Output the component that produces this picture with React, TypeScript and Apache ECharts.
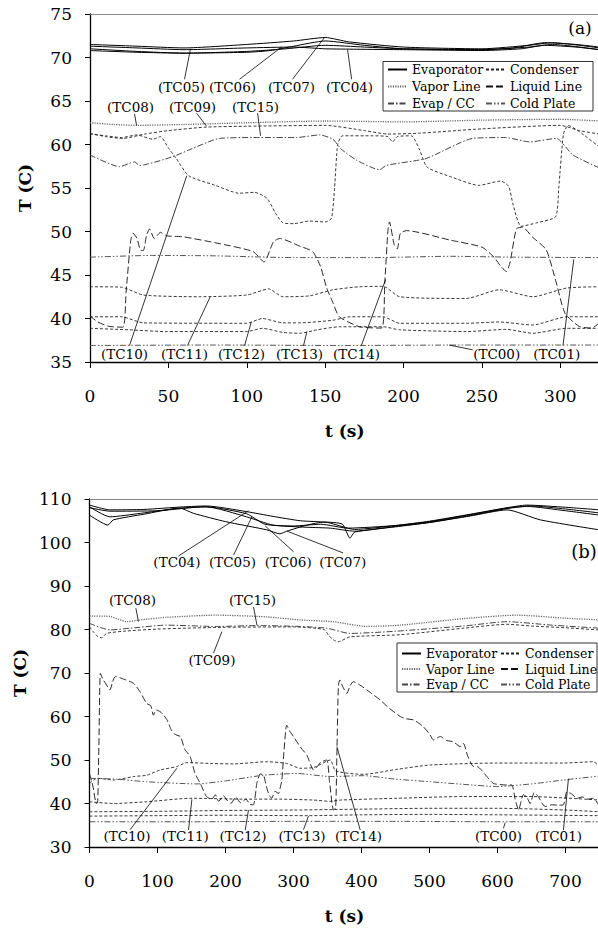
import React, { useEffect, useRef } from "react";
import * as echarts from "echarts";

const FONT = "DejaVu Serif";

// ---------- axes ----------
const A_X = { min: 0, max: 325, interval: 50 };
const A_Y = { min: 35, max: 75, interval: 5 };
const B_X = { min: 0, max: 750, interval: 100 };
const B_Y = { min: 30, max: 110, interval: 10 };

const LEGEND_COL1 = ["Evaporator", "Vapor Line", "Evap / CC"];
const LEGEND_COL2 = ["Condenser", "Liquid Line", "Cold Plate"];

// ---------- panel (a) data: [t (s), T (C)] ----------
const a_TC04 = [[0,71.3],[30,71.1],[60,70.9],[100,71.1],[130,71.2],[150,71.0],[170,70.95],[200,70.9],[250,70.8],[275,71.0],[290,71.4],[310,71.2],[325,70.9]];
const a_TC05 = [[0,70.8],[30,70.6],[60,70.5],[100,70.7],[125,71.0],[150,71.4],[175,71.2],[200,71.0],[250,70.9],[270,71.1],[290,71.7],[310,71.5],[325,71.2]];
const a_TC06 = [[0,71.0],[30,70.7],[60,70.5],[100,70.6],[115,70.8],[130,71.3],[150,71.9],[175,71.4],[200,71.0],[250,70.9],[280,71.2],[295,71.5],[325,70.9]];
const a_TC07 = [[0,71.5],[30,71.3],[60,71.1],[100,71.5],[130,71.9],[150,72.3],[165,71.8],[200,71.2],[250,71.0],[280,71.4],[295,71.7],[325,71.1]];
const a_TC08 = [[0,62.5],[15,62.3],[30,62.2],[60,62.3],[100,62.5],[150,62.7],[200,62.6],[250,62.8],[300,62.9],[325,62.7]];
const a_TC09 = [[0,61.3],[10,60.9],[21,60.7],[35,61.2],[50,61.6],[74,62.0],[100,62.1],[150,62.2],[175,61.6],[190,61.2],[210,61.3],[250,61.8],[300,62.2],[312,61.6],[325,61.2]];
const a_TC10 = [[0,61.2],[10,61.0],[20,60.8],[30,61.1],[40,60.6],[45,60.9],[50,59.6],[55,58.4],[63,56.4],[80,55.3],[95,54.4],[105,54.5],[113,53.8],[118,52.2],[123,51.0],[130,50.9],[140,51.2],[150,51.1],[154,51.5],[156,55],[158,60],[161,61.0],[180,61.0],[190,60.9],[193,60.3],[196,60.9],[205,61.0],[210,59.5],[215,57.4],[230,56.3],[248,55.3],[262,55.8],[267,55.2],[270,53.0],[275,50.6],[285,51.0],[297,51.7],[299,55],[302,61.2],[305,62.2],[312,61.5],[325,59.7]];
const a_TC11 = [[0,43.65],[20,43.6],[34,42.7],[70,42.5],[100,42.7],[114,43.4],[123,42.5],[140,42.6],[155,43.3],[172,43.65],[187,43.7],[197.5,42.5],[240,42.3],[261,43.3],[282.5,42.5],[304,43.5],[325,43.65]];
const a_TC12 = [[0,40.2],[20,40.2],[34,39.5],[100,39.45],[110,40.0],[123,39.5],[134,39.5],[155,39.8],[166,40.2],[187,40.2],[197.5,39.45],[240,39.45],[261,39.6],[282.5,39.25],[304,40.2],[325,40.2]];
const a_TC13 = [[0,38.87],[25,38.7],[48,38.5],[100,38.5],[110,38.87],[123,38.4],[134,38.3],[145,38.7],[159,39.05],[187,39.05],[197.5,38.7],[240,38.5],[265.6,38.75],[282.5,38.3],[304,38.87],[325,38.87]];
const a_TC14 = [[0,40.3],[5,39.6],[12,39.1],[21,39.0],[23,43],[26,49],[27.5,49.8],[30,49.2],[32,47.9],[34,47.8],[36,49.5],[38,50.3],[41,49.2],[45,49.9],[49,49.5],[59,49.4],[80,48.7],[104,47.7],[111,46.5],[117,48.8],[121,49.2],[134,48.3],[142,47.7],[147,46.0],[151,43.5],[155,41.8],[159,40.2],[172,39.05],[186,38.9],[188,44],[190,50],[191,51.1],[194,48.5],[196,48.0],[198,49.8],[202,50.1],[230,49.0],[250,48.2],[258,47.0],[262,46.0],[265.6,45.4],[268,46.5],[272,50.3],[276,50.5],[282,49.4],[291,47.9],[297,44.4],[303,40.6],[312,39.1],[320,38.9],[325,39.5]];
const a_TC15 = [[0,58.8],[18.8,57.45],[28.4,58.0],[31.6,57.6],[52.8,58.6],[63.5,59.4],[82.6,60.7],[106,60.8],[131.6,60.8],[146.5,61.1],[155,60.6],[160,59.5],[170,58.2],[184.7,57.1],[189,57.6],[214.5,58.4],[244,60.7],[265,60.8],[280.5,60.3],[297.5,60.7],[308,58.8],[325,57.3]];
const a_TC00 = [[0,36.9],[80,36.95],[160,36.9],[240,36.95],[325,36.95]];
const a_TC01 = [[0,47.05],[40,47.25],[80,47.2],[130,47.0],[180,47.0],[230,47.15],[270,47.05],[325,47.0]];

// ---------- panel (b) data ----------
const b_TC04 = [[0,108.6],[30,107.5],[80,107.6],[138,108.2],[172,108.4],[231,107.1],[270,106.0],[310,105.0],[350,104.6],[390,103.0],[450,103.9],[500,104.9],[560,106.5],[614,108.0],[643,108.6],[700,108.1],[750,107.5]];
const b_TC05 = [[0,108.2],[30,105.9],[75,106.7],[133,107.9],[172,108.2],[231,105.9],[270,104.0],[320,103.5],[354,103.3],[390,102.6],[450,103.7],[500,104.6],[560,106.2],[614,107.8],[643,108.3],[700,107.3],[750,106.3]];
const b_TC06 = [[0,108.0],[30,107.2],[100,107.3],[170,108.2],[231,106.6],[258,104.2],[300,103.8],[340,104.2],[380,103.3],[450,103.9],[500,104.8],[560,106.4],[614,107.9],[650,108.4],[700,107.7],[750,106.8]];
const b_TC07 = [[0,106.3],[27,104.0],[35,105.2],[80,106.5],[133,107.9],[153,106.7],[200,104.8],[261,102.9],[280,102.0],[290,102.6],[320,104.0],[345,104.7],[372,104.2],[383,101.0],[390,102.4],[450,103.6],[500,104.6],[560,106.1],[614,107.5],[663,105.2],[750,102.9]];
const b_TC08 = [[0,83.1],[30,83.0],[55,81.8],[75,82.2],[113,82.8],[187,83.3],[260,82.9],[310,82.2],[358,81.8],[408,80.7],[457,81.0],[550,82.5],[628,83.3],[700,82.6],[750,82.2]];
const b_TC09 = [[0,80.6],[6,79.4],[12,78.4],[18,78.1],[25,79.1],[50,79.6],[100,80.1],[195,80.5],[300,80.6],[345,80.0],[352,78.6],[359,77.6],[366,77.2],[383,78.3],[457,78.8],[550,80.3],[614,81.2],[650,80.8],[700,80.4],[750,79.9]];
const b_TC15 = [[0,81.4],[30,79.9],[60,80.3],[113,81.0],[187,80.7],[246,80.9],[310,80.7],[349,80.3],[383,79.1],[450,79.6],[550,80.8],[614,81.8],[680,81.0],[750,80.3]];
const b_TC10 = [[0,44.6],[11,45.8],[35,45.4],[65,46.2],[84,46.5],[104,47.7],[128.5,48.5],[143,49.4],[180,49.2],[211.8,49.1],[261,49.6],[290,49.2],[310,48.1],[330,48.3],[354,50.0],[362,47.5],[403,46.7],[450,47.8],[501,48.85],[599,49.3],[697,49.3],[741,49.6],[750,48.5]];
const b_TC11 = [[0,40.4],[35,40.0],[84,40.4],[148,41.2],[231,41.0],[280,41.0],[329,40.8],[354,40.5],[370,40.8],[452,41.2],[550,41.6],[648,41.6],[750,40.8]];
const b_TC12 = [[0,38.1],[100,38.2],[200,38.4],[300,38.5],[400,38.7],[500,38.9],[600,38.9],[700,38.5],[750,38.1]];
const b_TC13 = [[0,37.1],[100,37.2],[200,37.3],[322,37.2],[400,37.4],[500,37.5],[600,37.4],[750,37.2]];
const b_TC14 = [[0,46.9],[5,44],[10,40.0],[12,40.2],[14,55],[16,69.9],[20,68.5],[24,67.5],[30,66.1],[34,68],[38,69.2],[50,68.6],[65,67.6],[75,65.5],[84,63.0],[90,62.5],[94,60.3],[98,61.5],[104,61.1],[108,60.5],[114,59.2],[120,57],[124,56.1],[130,55.6],[134,55.4],[140,52.5],[148,50.8],[155,47],[163,44.6],[172,41.6],[180,41.0],[185,42],[190,40.5],[197,41.8],[202,40.8],[208,40.0],[215,41.5],[222,40.2],[230,41.0],[236,39.8],[241,39.7],[244,42],[246,44.6],[251,46.8],[256,46.5],[260,44],[264,42],[268,41.2],[273,42.8],[278,42.3],[281,44],[283,45.4],[286,52],[290,58.0],[295,56.5],[300,55.4],[310,53],[319.7,51.1],[325,49],[329.4,47.7],[335,48.5],[340,49.5],[349,50.0],[353,45],[358.8,38.5],[362,39],[364,53],[366,67],[368,68.4],[372,67],[378.5,65.3],[383,67],[388,68.0],[398,67.2],[408,66.1],[427.5,63.8],[440,62],[457,60.0],[465,59.5],[476.5,59.2],[490,57.8],[500,56],[506,54.6],[515.7,55.4],[525,54.5],[535,54.2],[545,53.1],[550,53.8],[556,51],[564.7,48.5],[570,48.5],[584.4,46.2],[594,44.6],[613.8,44.25],[621,44.25],[626,41],[631,38.5],[638,42.0],[643,41.5],[648,40.0],[654,42.5],[660,41.6],[665,40.2],[670,39.3],[680,39.7],[690,39.6],[697,39.7],[702,42.7],[709,42.2],[717,41.2],[725,41.5],[733,41.0],[741,41.2],[750,39.3]];
const b_TC00 = [[0,35.8],[150,35.8],[300,35.9],[450,35.9],[600,35.8],[750,35.8]];
const b_TC01 = [[0,45.8],[40,45.6],[84,45.0],[158,44.5],[200,45.2],[256,46.5],[305,46.9],[354,46.2],[403,46.4],[450,45.6],[501,45.0],[550,44.4],[599,43.9],[650,44.5],[697,45.4],[750,46.3]];

// ---------- annotations: label position, arrow tail, arrow tip (data coords) ----------
type Ann = { text: string; label: number[]; tail: number[]; tip: number[] };
const annA: Ann[] = [
  { text: "(TC05)", label: [58.4, 66.6], tail: [60.3, 67.5], tip: [64.1, 71.0] },
  { text: "(TC06)", label: [90.9, 66.6], tail: [95.4, 67.5], tip: [122.2, 71.2] },
  { text: "(TC07)", label: [128.6, 66.6], tail: [129.2, 67.5], tip: [149.6, 72.3] },
  { text: "(TC04)", label: [165.6, 66.6], tail: [166.9, 67.5], tip: [164.3, 70.9] },
  { text: "(TC08)", label: [25.9, 64.3], tail: [28.4, 63.5], tip: [29.7, 62.2] },
  { text: "(TC09)", label: [65.4, 64.3], tail: [68.0, 63.6], tip: [74.3, 62.1] },
  { text: "(TC15)", label: [105.6, 64.3], tail: [106.9, 63.6], tip: [108.8, 61.0] },
  { text: "(TC10)", label: [22, 35.9], tail: [25.2, 36.9], tip: [61.7, 56.4] },
  { text: "(TC11)", label: [60.3, 35.9], tail: [62.2, 36.9], tip: [76.7, 42.5] },
  { text: "(TC12)", label: [96.7, 35.9], tail: [98.6, 36.9], tip: [102.9, 39.6] },
  { text: "(TC13)", label: [133.7, 35.9], tail: [136.2, 36.9], tip: [138.4, 38.5] },
  { text: "(TC14)", label: [170, 35.9], tail: [173.1, 36.9], tip: [188.6, 44.5] },
  { text: "(TC00)", label: [259.4, 35.9], tail: [244.1, 36.4], tip: [229, 36.95] },
  { text: "(TC01)", label: [297.7, 35.9], tail: [301.7, 36.9], tip: [308.6, 46.8] },
];
const annB: Ann[] = [
  { text: "(TC04)", label: [128.5, 95.5], tail: [130.9, 96.9], tip: [233.8, 107.3] },
  { text: "(TC05)", label: [210.3, 95.5], tail: [211.8, 97.1], tip: [238.8, 105.9] },
  { text: "(TC06)", label: [292.2, 95.5], tail: [300, 97.9], tip: [258.4, 103.8] },
  { text: "(TC07)", label: [372.4, 95.5], tail: [373, 97.6], tip: [290.7, 102.6] },
  { text: "(TC08)", label: [63.2, 86.7], tail: [68.2, 84.9], tip: [72, 81.8] },
  { text: "(TC15)", label: [239.7, 86.7], tail: [241.2, 85.2], tip: [246.2, 81.0] },
  { text: "(TC09)", label: [180, 73.1], tail: [182.4, 74.6], tip: [194.7, 79.5] },
  { text: "(TC10)", label: [55, 32.5], tail: [59.9, 34.0], tip: [128.5, 48.1] },
  { text: "(TC11)", label: [140.9, 32.5], tail: [145.6, 33.9], tip: [150.6, 41.0] },
  { text: "(TC12)", label: [225.6, 32.5], tail: [229, 33.9], tip: [233.8, 38.5] },
  { text: "(TC13)", label: [312.5, 32.5], tail: [314.7, 34.0], tip: [322, 37.1] },
  { text: "(TC14)", label: [395.6, 32.5], tail: [398.1, 33.9], tip: [363.8, 53.1] },
  { text: "(TC00)", label: [601.5, 32.5], tail: [608.8, 34.3], tip: [611.3, 35.6] },
  { text: "(TC01)", label: [689.7, 32.5], tail: [697, 33.9], tip: [704.3, 45.7] },
];

const STYLE: Record<string, { color: string; width: number; type: any }> = {
  Evaporator: { color: "#000", width: 1, type: "solid" },
  Condenser: { color: "#222", width: 0.9, type: [3, 2] },
  "Vapor Line": { color: "#666", width: 1.3, type: [1.2, 1.2] },
  "Liquid Line": { color: "#111", width: 0.9, type: [7, 3] },
  "Evap / CC": { color: "#444", width: 1, type: [6, 2, 1.5, 2] },
  "Cold Plate": { color: "#555", width: 1, type: [6, 2, 1.5, 2, 1.5, 2] },
};

const seriesA: [string, number[][]][] = [
  ["Evaporator", a_TC04], ["Evaporator", a_TC05], ["Evaporator", a_TC06], ["Evaporator", a_TC07],
  ["Vapor Line", a_TC08], ["Condenser", a_TC09], ["Condenser", a_TC10], ["Condenser", a_TC11],
  ["Condenser", a_TC12], ["Condenser", a_TC13], ["Liquid Line", a_TC14], ["Evap / CC", a_TC15],
  ["Cold Plate", a_TC00], ["Cold Plate", a_TC01],
];
const seriesB: [string, number[][]][] = [
  ["Evaporator", b_TC04], ["Evaporator", b_TC05], ["Evaporator", b_TC06], ["Evaporator", b_TC07],
  ["Vapor Line", b_TC08], ["Condenser", b_TC09], ["Condenser", b_TC10], ["Condenser", b_TC11],
  ["Condenser", b_TC12], ["Condenser", b_TC13], ["Liquid Line", b_TC14], ["Evap / CC", b_TC15],
  ["Cold Plate", b_TC00], ["Cold Plate", b_TC01],
];

function mainX(gridIndex: number, ax: any) {
  return {
    type: "value", gridIndex, min: ax.min, max: ax.max, interval: ax.interval,
    name: "t (s)", nameLocation: "middle", nameGap: 60,
    nameTextStyle: { fontFamily: FONT, fontSize: 17, fontWeight: "bold", color: "#000" },
    axisLine: { show: true, onZero: false, lineStyle: { color: "#000", width: 1.3 } },
    axisTick: { show: true, length: 6, inside: false, lineStyle: { color: "#000" } },
    axisLabel: { fontFamily: FONT, fontSize: 17, color: "#000", margin: 25, showMaxLabel: false },
    splitLine: { show: false },
  };
}
function topX(gridIndex: number, ax: any) {
  return {
    type: "value", gridIndex, position: "top", min: ax.min, max: ax.max, interval: ax.interval,
    axisLine: { show: true, onZero: false, lineStyle: { color: "#888", width: 1 } },
    axisTick: { show: false }, axisLabel: { show: false }, splitLine: { show: false },
  };
}
function mainY(gridIndex: number, ax: any) {
  return {
    type: "value", gridIndex, min: ax.min, max: ax.max, interval: ax.interval,
    name: "T (C)", nameLocation: "middle", nameRotate: 90, nameGap: 57,
    nameTextStyle: { fontFamily: FONT, fontSize: 17, fontWeight: "bold", color: "#000" },
    axisLine: { show: true, onZero: false, lineStyle: { color: "#000", width: 1.3 } },
    axisTick: { show: true, length: 5, inside: false, lineStyle: { color: "#000" } },
    axisLabel: { fontFamily: FONT, fontSize: 17, color: "#000", margin: 18 },
    splitLine: { show: false },
  };
}

function lineSeries(list: [string, number[][]][], xi: number, yi: number) {
  return list.map(([name, data]) => {
    const s = STYLE[name];
    return {
      type: "line", name, xAxisIndex: xi, yAxisIndex: yi, data,
      symbol: "none", smooth: 0.2, silent: true,
      lineStyle: { color: s.color, width: s.width, type: s.type },
      itemStyle: { color: s.color },
    };
  });
}

function annSeries(list: Ann[], xi: number, yi: number) {
  return {
    type: "line", name: "", xAxisIndex: xi, yAxisIndex: yi, data: [], silent: true,
    markLine: {
      silent: true, symbol: ["none", "arrow"], symbolSize: [0, 6], animation: false,
      label: { show: false },
      lineStyle: { color: "#000", width: 0.8, type: "solid" },
      emphasis: { disabled: true },
      data: list.map((a) => [{ coord: a.tail }, { coord: a.tip }]),
    },
    markPoint: {
      silent: true, symbol: "rect", symbolSize: 1, animation: false,
      itemStyle: { color: "rgba(0,0,0,0)" },
      label: { show: true, position: "inside", formatter: "{b}", color: "#000", fontFamily: FONT, fontSize: 13.5 },
      data: list.map((a) => ({ name: a.text, coord: a.label })),
    },
  };
}

function legend(data: string[], left: number, top: number, gap: number) {
  return {
    orient: "vertical", left, top, data, padding: 0, itemGap: gap,
    itemWidth: 19, itemHeight: 10, selectedMode: false, z: 10,
    itemStyle: { color: "rgba(0,0,0,0)", borderWidth: 0, opacity: 0 },
    textStyle: { fontFamily: FONT, fontSize: 12.5, color: "#000", lineHeight: 15 },
  };
}

export default function App() {
  const ref = useRef<HTMLDivElement>(null);
  useEffect(() => {
    const chart = echarts.init(ref.current!, null, { renderer: "svg" });
    chart.setOption({
      animation: false,
      backgroundColor: "#fff",
      textStyle: { fontFamily: FONT },
      grid: [
        { left: 90, right: -1.5, top: 14, height: 348, outerBoundsMode: "none", containLabel: false },
        { left: 89.5, right: -1.5, top: 499, height: 348, outerBoundsMode: "none", containLabel: false },
      ],
      xAxis: [mainX(0, A_X), topX(0, A_X), mainX(1, B_X), topX(1, B_X)],
      yAxis: [mainY(0, A_Y), mainY(1, B_Y)],
      legend: [
        legend(LEGEND_COL1, 387, 62, 2),
        legend(LEGEND_COL2, 485, 62, 2),
        legend(LEGEND_COL1, 401, 646, 0.5),
        legend(LEGEND_COL2, 500, 646, 0.5),
      ],
      graphic: [
        { type: "rect", z: 5, shape: { x: 383, y: 61.5, width: 210, height: 49.5 }, style: { fill: "#fff", stroke: "#333", lineWidth: 1 } },
        { type: "rect", z: 5, shape: { x: 397, y: 643, width: 200, height: 49 }, style: { fill: "#fff", stroke: "#333", lineWidth: 1 } },
        { type: "text", z: 5, x: 580, y: 28, style: { text: "(a)", fontFamily: FONT, fontSize: 17, fill: "#000", align: "center", verticalAlign: "middle" } },
        { type: "text", z: 5, x: 584, y: 551, style: { text: "(b)", fontFamily: FONT, fontSize: 18, fill: "#000", align: "center", verticalAlign: "middle" } },
      ],
      series: [
        ...lineSeries(seriesA, 0, 0),
        annSeries(annA, 0, 0),
        ...lineSeries(seriesB, 2, 1),
        annSeries(annB, 2, 1),
      ],
    });
    return () => chart.dispose();
  }, []);
  return <div ref={ref} style={{ position: "absolute", left: 0, top: 0, width: 598, height: 930 }} />;
}
